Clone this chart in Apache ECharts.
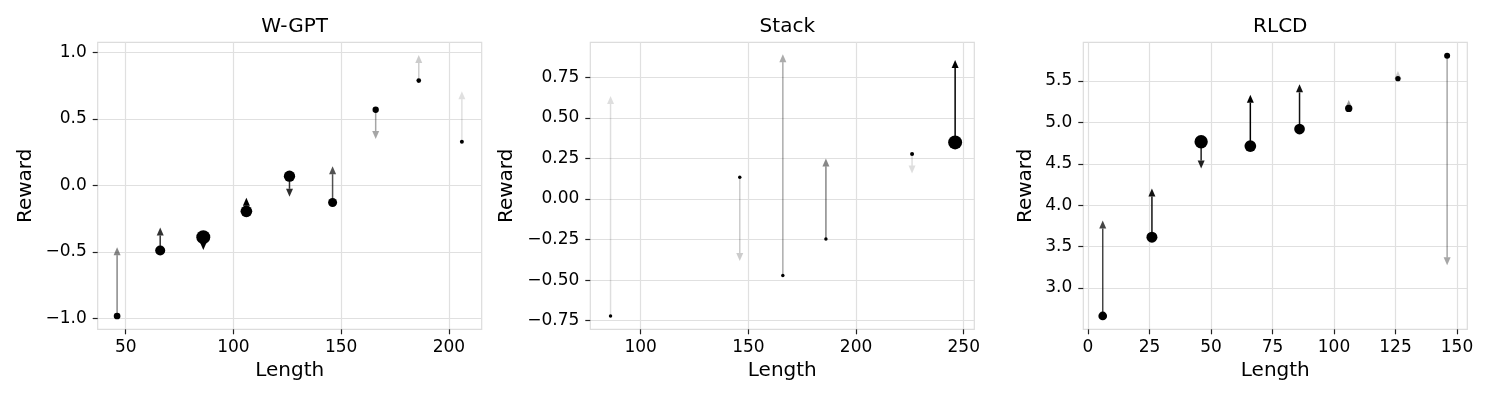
<!DOCTYPE html>
<html>
<head>
<meta charset="utf-8">
<script src="https://cdn.jsdelivr.net/npm/echarts@6/dist/echarts.min.js"></script>
<style>
html,body{margin:0;padding:0;background:#fff;}
#c{width:1492px;height:402px;}
</style>
</head>
<body>
<div id="c"></div>
<script>
// ---------------- data ----------------
const titles = ['W-GPT', 'Stack', 'RLCD'];

// W-GPT
const wgptLength = [46, 66, 86, 106, 126, 146, 166, 186, 206];
const wgptReward = [-0.983, -0.49, -0.389, -0.195, 0.07, -0.128, 0.57, 0.79, 0.33];
const wgptTarget = [-0.465, -0.317, -0.485, -0.093, -0.085, 0.145, 0.35, 0.983, 0.71];
const wgptCount = [45, 100, 196, 137, 128, 81, 40, 22, 16];
const wgptAlpha = [0.47, 0.8, 1.0, 1.0, 0.82, 0.68, 0.35, 0.2, 0.12];

// Stack
const stackLength = [86, 146, 166, 186, 226, 246];
const stackReward = [-0.721, 0.134, -0.471, -0.246, 0.277, 0.349];
const stackTarget = [0.635, -0.382, 0.892, 0.25, 0.158, 0.857];
const stackCount = [12, 12, 12, 12, 16, 196];
const stackAlpha = [0.13, 0.2, 0.33, 0.47, 0.13, 1.0];

// RLCD
const rlcdLength = [6, 26, 46, 66, 86, 106, 126, 146];
const rlcdReward = [2.662, 3.614, 4.766, 4.714, 4.919, 5.169, 5.528, 5.806];
const rlcdTarget = [3.814, 4.2, 4.444, 5.333, 5.459, 5.27, 5.62, 3.275];
const rlcdCount = [76, 121, 177, 137, 114, 53, 28, 36];
const rlcdAlpha = [0.73, 0.93, 0.87, 1.0, 0.93, 0.4, 0.2, 0.35];

// axis ticks
const xTicks = [[50, 100, 150, 200], [100, 150, 200, 250], [0, 25, 50, 75, 100, 125, 150]];
const yTicks = [[-1, -0.5, 0, 0.5, 1], [-0.75, -0.5, -0.25, 0, 0.25, 0.5, 0.75], [3.0, 3.5, 4.0, 4.5, 5.0, 5.5]];
const xRange = [[37, 215.2], [76.6, 254.9], [-1.9, 154.2]];
const yRange = [[-1.083, 1.078], [-0.803, 0.966], [2.501, 5.967]];
const yDecimals = [1, 2, 1];

const panels = [
  [wgptLength, wgptReward, wgptTarget, wgptCount, wgptAlpha],
  [stackLength, stackReward, stackTarget, stackCount, stackAlpha],
  [rlcdLength, rlcdReward, rlcdTarget, rlcdCount, rlcdAlpha]
];

// ---------------- layout ----------------
const FONT = 'DejaVu Sans';
const gridLefts = [97.7, 590.3, 1083.3];
const gridW = 384, gridTop = 42.3, gridH = 287;
const yNameGaps = [62, 74, 48];

const fmt = (d) => (v) => (v < 0 ? '\u2212' : '') + Math.abs(v).toFixed(d);

const option = {
  backgroundColor: '#fff',
  animation: false,
  title: [], grid: [], xAxis: [], yAxis: [], series: []
};

panels.forEach((p, i) => {
  option.title.push({
    text: titles[i],
    left: gridLefts[i] + gridW / 2, top: 12, textAlign: 'center',
    textStyle: {fontFamily: FONT, fontSize: 20, fontWeight: 'normal', color: '#000'}
  });
  option.grid.push({
    left: gridLefts[i], top: gridTop, width: gridW, height: gridH,
    show: true, borderColor: '#dcdcdc', borderWidth: 1.2, backgroundColor: '#fff'
  });
  option.xAxis.push({
    type: 'value', gridIndex: i, min: xRange[i][0], max: xRange[i][1],
    name: 'Length', nameLocation: 'middle', nameGap: 31,
    nameTextStyle: {fontFamily: FONT, fontSize: 20, color: '#000'},
    axisLine: {show: false, onZero: false},
    axisTick: {show: true, length: 5, lineStyle: {color: '#222', width: 1.2}, customValues: xTicks[i]},
    axisLabel: {fontFamily: FONT, fontSize: 17, color: '#000', margin: 10, customValues: xTicks[i], showMinLabel: true, showMaxLabel: true},
    splitLine: {show: true, lineStyle: {color: '#e0e0e0', width: 1.2}}
  });
  option.yAxis.push({
    type: 'value', gridIndex: i, min: yRange[i][0], max: yRange[i][1],
    name: 'Reward', nameLocation: 'middle', nameGap: yNameGaps[i],
    nameTextStyle: {fontFamily: FONT, fontSize: 20, color: '#000'},
    axisLine: {show: false, onZero: false},
    axisTick: {show: true, length: 5, lineStyle: {color: '#222', width: 1.2}, customValues: yTicks[i]},
    axisLabel: {fontFamily: FONT, fontSize: 17, color: '#000', margin: 11, customValues: yTicks[i], formatter: fmt(yDecimals[i])},
    splitLine: {show: true, lineStyle: {color: '#e0e0e0', width: 1.2}}
  });

  const [len, rew, tgt, cnt, alp] = p;
  const arrowData = len.map((x, k) => [x, rew[k], tgt[k], alp[k]]);
  option.series.push({
    type: 'custom', xAxisIndex: i, yAxisIndex: i, z: 2,
    data: arrowData,
    encode: {x: 0, y: [1, 2]},
    renderItem: function (params, api) {
      const x = api.value(0), y0 = api.value(1), y1 = api.value(2), a = api.value(3);
      const p0 = api.coord([x, y0]);
      const p1 = api.coord([x, y1]);
      const dir = p1[1] < p0[1] ? -1 : 1; // -1 upward
      const headL = 8, headW = 3.5;
      const baseY = p1[1] - dir * headL;
      const col = 'rgba(0,0,0,' + a + ')';
      return {
        type: 'group',
        children: [
          {type: 'line', shape: {x1: p0[0], y1: p0[1], x2: p1[0], y2: baseY},
           style: {stroke: col, lineWidth: 1.5}},
          {type: 'polygon', shape: {points: [[p1[0], p1[1]], [p1[0] - headW, baseY], [p1[0] + headW, baseY]]},
           style: {fill: col}}
        ]
      };
    }
  });
  option.series.push({
    type: 'scatter', xAxisIndex: i, yAxisIndex: i, z: 3,
    data: len.map((x, k) => [x, rew[k], cnt[k]]),
    symbolSize: (v) => Math.sqrt(v[2]),
    itemStyle: {color: '#000', opacity: 1}
  });
});

const chart = echarts.init(document.getElementById('c'), null, {renderer: 'canvas'});
chart.setOption(option);
</script>
</body>
</html>
